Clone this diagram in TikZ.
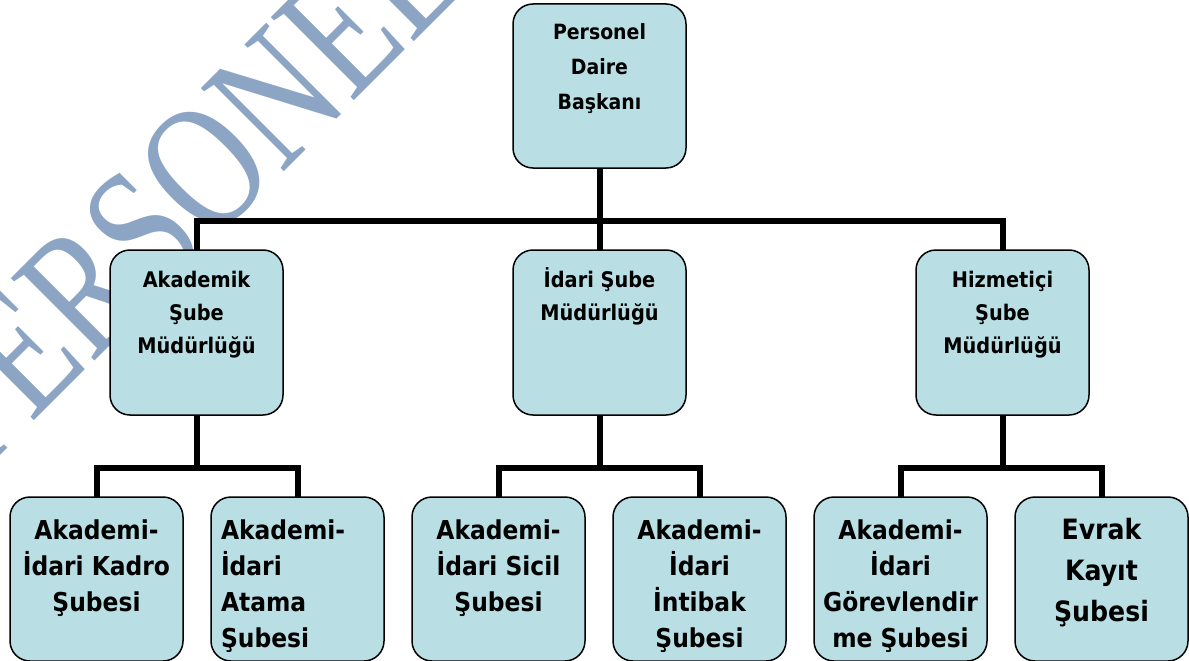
\documentclass[tikz,border=0pt]{standalone}
\usepackage{fontspec}
\setmainfont{DejaVu Sans Condensed}[BoldFont={DejaVu Sans Condensed Bold}]
\newfontfamily\wmfont{Liberation Serif}
\usetikzlibrary{positioning}
\definecolor{boxblue}{RGB}{185,223,228}
\definecolor{wmblue}{RGB}{141,165,196}
\tikzset{
  unitbox/.style={draw=black, line width=1.5pt, fill=boxblue, rounded corners=20pt,
    inner sep=0pt, outer sep=0pt, minimum width=173pt,
    execute at begin node={\begin{minipage}[t]{160pt}\centering},
    execute at end node={\end{minipage}}},
  headbox/.style={unitbox, text height=36pt, text depth=128pt,
    font=\bfseries\fontsize{21}{35}\selectfont},
  deptbox/.style={unitbox, text height=37pt, text depth=128pt,
    font=\bfseries\fontsize{21.5}{33}\selectfont},
  leafbox/.style={unitbox, text height=42pt, text depth=122pt,
    font=\bfseries\fontsize{26}{36}\selectfont},
  bigleafbox/.style={leafbox, font=\bfseries\fontsize{28}{41}\selectfont},
  orgline/.style={line width=6pt},
  watermark/.style={text=wmblue, rotate=45, inner sep=0pt,
    font=\wmfont\fontsize{138}{138}\selectfont}
}

\begin{document}
\begin{tikzpicture}[x=1pt, y=1pt]
\useasboundingbox (0,0) rectangle (1189,-661);

% watermark behind the chart
\begin{scope}
  \clip (0,0) rectangle (1189,-661);
  \node[watermark] (wm) at (183,-190) {\scalebox{1}[1.3]{PERSONEL}};
\end{scope}

% head and departments
\node[headbox] (pdb) at (599.5,-86) {Personel\\Daire\\Başkanı};
\node[deptbox, below=82pt of pdb] (idr) {İdari Şube\\Müdürlüğü};
\node[deptbox, left=230pt of idr] (aka) {Akademik\\Şube\\Müdürlüğü};
\node[deptbox, right=230pt of idr] (hiz) {Hizmetiçi\\Şube\\Müdürlüğü};

% branches
\node[leafbox, below=82pt of idr, xshift=-101pt] (sicil) {Akademi-\\İdari Sicil\\Şubesi};
\node[leafbox, left=28pt of sicil] (atama) {\raggedright\leftskip=3.5pt Akademi-\\İdari\\Atama\\Şubesi\par};
\node[leafbox, left=28pt of atama] (kadro) {Akademi-\\İdari Kadro\\Şubesi};
\node[leafbox, right=28pt of sicil] (intibak) {Akademi-\\İdari\\İntibak\\Şubesi};
\node[leafbox, right=28pt of intibak] (gorev) {Akademi-\\İdari\\Görevlendir\\me Şubesi};
\node[bigleafbox, right=28pt of gorev] (evrak) {Evrak\\Kayıt\\Şubesi};

% connectors
\path (pdb.south) ++(0,-53pt) coordinate (pdb-j);
\path (aka.south) ++(0,-53pt) coordinate (aka-j);
\path (idr.south) ++(0,-53pt) coordinate (idr-j);
\path (hiz.south) ++(0,-53pt) coordinate (hiz-j);

\draw[orgline] (pdb) -- (idr);
\draw[orgline] (aka.north) |- (pdb-j) -| (hiz.north);

\draw[orgline] (aka) -- (aka-j);
\draw[orgline] (kadro.north) |- (aka-j) -| (atama.north);
\draw[orgline] (idr) -- (idr-j);
\draw[orgline] (sicil.north) |- (idr-j) -| (intibak.north);
\draw[orgline] (hiz) -- (hiz-j);
\draw[orgline] (gorev.north) |- (hiz-j) -| (evrak.north);
\end{tikzpicture}
\end{document}
